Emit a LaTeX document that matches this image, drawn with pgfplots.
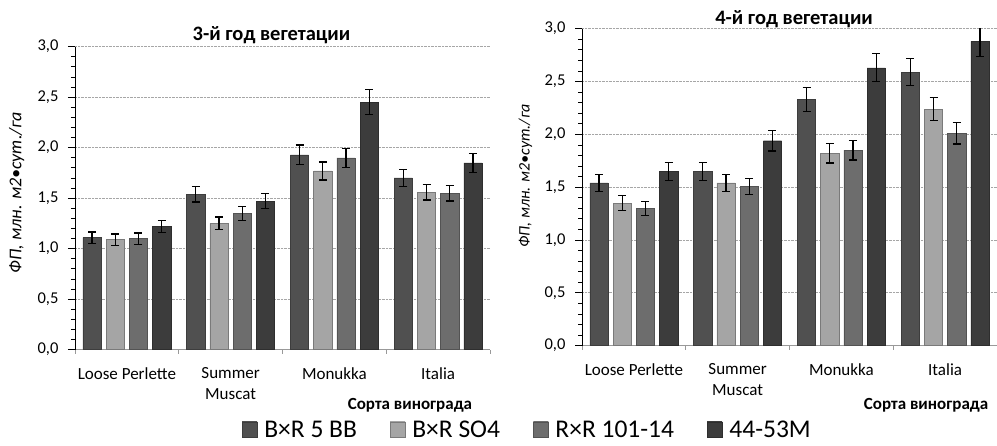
\documentclass[border=0pt]{standalone}
\usepackage{fontspec}
\setmainfont{Carlito}
\usepackage{pgfplots}
\pgfplotsset{compat=1.18}

\definecolor{cA}{HTML}{5E5E5E}
\definecolor{cB}{HTML}{BBBBBB}
\definecolor{cC}{HTML}{808080}
\definecolor{cD}{HTML}{474747}

\pgfplotsset{
  panel/.style={
    scale only axis, width=415pt,
    ymin=0, ymax=3, xmin=-0.5, xmax=3.5,
    ybar, bar width=0.176,
    axis x line*=bottom, axis y line*=left,
    x axis line style={draw=gray!80, line width=0.8pt},
    y axis line style={black, line width=0.8pt},
    xtick={0,1,2,3},
    xticklabels={{Loose Perlette\\\strut}, {Summer\\Muscat}, {Monukka\\\strut}, {Italia\\\strut}},
    xticklabel style={align=center, yshift=-7pt, font=\fontsize{17}{21}\selectfont},
    major x tick style={draw=none},
    minor xtick={-0.5,0.5,1.5,2.5,3.5},
    minor x tick style={draw=gray!80, line width=0.8pt},
    tick align=outside,
    ytick={0,0.5,...,3}, minor y tick num=4,
    major y tick style={black, line width=0.8pt},
    minor y tick style={black, line width=0.8pt},
    major tick length=7pt, minor tick length=4pt,
    ymajorgrids, major grid style={densely dotted, gray!70, line width=0.9pt},
    yticklabel style={xshift=-6pt, font=\fontsize{16.5}{20}\selectfont, /pgf/number format/.cd, fixed, fixed zerofill, precision=1, use comma, assume math mode=true},
    error bars/y dir=both, error bars/y explicit,
    error bars/error bar style={black, line width=1.2pt},
    error bars/error mark options={black, line width=1.2pt, mark size=4pt, rotate=90},
    legend image code/.code={\draw[#1] (0pt,-7pt) rectangle (15pt,8pt);},
    every axis title shift=0pt,
  },
  sA/.style={bar shift=-0.336, draw=cA!65!black, left color=cA!85!black, middle color=cA!90!white, right color=cA!85!black},
  sB/.style={bar shift=-0.112, draw=cB!65!black, left color=cB!88!black, middle color=cB!85!white, right color=cB!88!black},
  sC/.style={bar shift=0.112, draw=cC!65!black, left color=cC!85!black, middle color=cC!90!white, right color=cC!85!black},
  sD/.style={bar shift=0.336, draw=cD!65!black, left color=cD!85!black, middle color=cD!90!white, right color=cD!85!black},
}

\begin{document}
\begin{tikzpicture}
\path[use as bounding box] (0pt,0pt) rectangle (997pt,446pt);

% ---------- left panel ----------
\begin{axis}[panel, height=303pt, at={(75pt,96.3pt)}, anchor=south west,
  title={3-й год вегетации},
  title style={at={(axis description cs:0.4735,1.0188)}, anchor=base, font=\fontsize{20.5}{24}\selectfont\bfseries},
  xlabel={Сорта винограда},
  xlabel style={at={(axis description cs:0.807,-0.199)}, anchor=base, font=\fontsize{17}{20}\selectfont\bfseries},
  ylabel={\itshape ФП, млн. м2•сут./га},
  ylabel style={at={(axis description cs:-0.1405,0.519)}, anchor=center, font=\fontsize{18}{22}\selectfont},
  legend columns=4,
  legend style={draw=none, fill=none, at={(axis description cs:1.090,-0.265)}, anchor=center,
    font=\fontsize{25.5}{30}\selectfont,
    /tikz/every odd column/.append style={column sep=5pt},
    /tikz/every even column/.append style={column sep=31pt}},
]
\addplot[sA] coordinates {(0,1.11) +- (0,0.056) (1,1.54) +- (0,0.077) (2,1.93) +- (0,0.097) (3,1.70) +- (0,0.085)};
\addplot[sB] coordinates {(0,1.09) +- (0,0.055) (1,1.25) +- (0,0.063) (2,1.77) +- (0,0.089) (3,1.56) +- (0,0.078)};
\addplot[sC] coordinates {(0,1.10) +- (0,0.055) (1,1.35) +- (0,0.068) (2,1.90) +- (0,0.095) (3,1.55) +- (0,0.078)};
\addplot[sD] coordinates {(0,1.22) +- (0,0.061) (1,1.47) +- (0,0.074) (2,2.45) +- (0,0.123) (3,1.85) +- (0,0.093)};
\legend{B×R 5 BB, B×R SO4, R×R 101-14, 44-53M}
\draw[densely dotted, gray!70, line width=0.9pt] (rel axis cs:1,0) -- (rel axis cs:1,1);
\end{axis}

% ---------- right panel ----------
\begin{axis}[panel, height=317pt, at={(582pt,100.3pt)}, anchor=south west,
  title={4-й год вегетации},
  title style={at={(axis description cs:0.511,1.0148)}, anchor=base, font=\fontsize{20.5}{24}\selectfont\bfseries},
  xlabel={Сорта винограда},
  xlabel style={at={(axis description cs:0.829,-0.2006)}, anchor=base, font=\fontsize{17}{20}\selectfont\bfseries},
  ylabel={\itshape ФП, млн. м2•сут./га},
  ylabel style={at={(axis description cs:-0.136,0.536)}, anchor=center, font=\fontsize{16}{19}\selectfont},
]
\addplot[sA] coordinates {(0,1.54) +- (0,0.077) (1,1.65) +- (0,0.083) (2,2.33) +- (0,0.117) (3,2.59) +- (0,0.130)};
\addplot[sB] coordinates {(0,1.35) +- (0,0.068) (1,1.54) +- (0,0.077) (2,1.82) +- (0,0.091) (3,2.24) +- (0,0.112)};
\addplot[sC] coordinates {(0,1.30) +- (0,0.065) (1,1.51) +- (0,0.076) (2,1.85) +- (0,0.093) (3,2.01) +- (0,0.101)};
\addplot[sD] coordinates {(0,1.65) +- (0,0.083) (1,1.94) +- (0,0.097) (2,2.63) +- (0,0.132) (3,2.88) +- (0,0.144)};
\end{axis}
\end{tikzpicture}
\end{document}
